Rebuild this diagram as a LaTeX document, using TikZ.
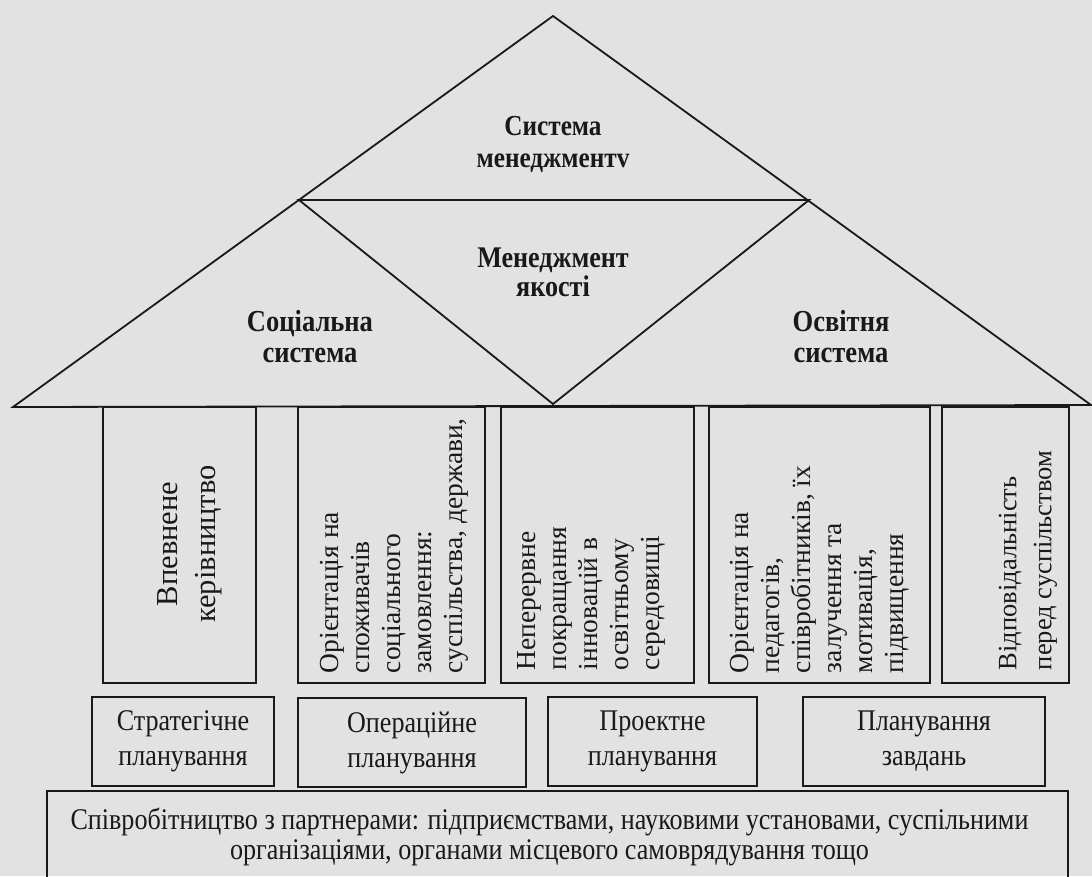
\documentclass[tikz,border=0pt]{standalone}
\usepackage{fontspec}
\setmainfont{Liberation Serif}
\newfontfamily\condfont[FakeStretch=0.87]{Liberation Serif}
\definecolor{bg}{RGB}{226,226,226}
\definecolor{ink}{RGB}{25,25,25}
\begin{document}
\begin{tikzpicture}[x=1pt,y=-1pt,line width=1.8pt,draw=ink,text=ink,
  trilabel/.style={align=center,inner sep=0pt,font=\condfont\bfseries\fontsize{30}{32}\selectfont},
  pillar/.style={draw,minimum height=276pt,inner sep=0pt},
  piltext/.style={rotate=90,align=left,anchor=west,inner sep=0pt,font=\fontsize{27.5}{31}\selectfont},
  planbox/.style={draw,minimum height=89pt,inner sep=0pt,align=center,font=\condfont\fontsize{30}{35}\selectfont},
  cooptext/.style={align=center,inner sep=0pt,font=\condfont\fontsize{30}{30}\selectfont}]
\clip (0,0) rectangle (1092,876);
\fill[bg] (0,0) rectangle (1092,876);

% triangles
\coordinate (apex) at (553,16);
\coordinate (bl) at (13,407);
\coordinate (br) at (1091,405);
\coordinate (ml) at (299,200);
\coordinate (mr) at (809,200);
\coordinate (mb) at (553,404);
\draw[line join=miter] (apex) -- (bl) -- (br) -- cycle;
\draw (ml) -- (mr) -- (mb) -- cycle;

\node[trilabel,font=\condfont\bfseries\fontsize{29}{32}\selectfont] (sys) at (553,144) {Система\\менеджментv};
\node[trilabel,font=\condfont\bfseries\fontsize{30}{29}\selectfont] (qual) at (553,272) {Менеджмент\\якості};
\node[trilabel,font=\condfont\bfseries\fontsize{30.5}{31}\selectfont] (soc) at (310,337) {Соціальна\\система};
\node[trilabel,font=\condfont\bfseries\fontsize{30.5}{31}\selectfont] (edu) at (841,337) {Освітня\\система};

% pillars
\node[pillar,minimum width=153pt] (c1) at (179.5,545) {};
\node[pillar,minimum width=187pt] (c2) at (391.5,545) {};
\node[pillar,minimum width=193pt] (c3) at (597.5,545) {};
\node[pillar,minimum width=221pt] (c4) at (819.5,545) {};
\node[pillar,minimum width=127pt] (c5) at (1005.5,545) {};

\node[rotate=90,align=center,inner sep=0pt,font=\fontsize{30.5}{38}\selectfont] (t1) at (190,544) {Впевнене\\керівництво};
\node[piltext] (t2) at (394,674) {Орієнтація на\\споживачів\\соціального\\замовлення:\\суспільства, держави,};
\node[piltext] (t3) at (591,671) {Неперервне\\покращання\\інновацій в\\освітньому\\середовищі};
\node[piltext] (t4) at (820,674) {Орієнтація на\\педагогів,\\співробітників, їх\\залучення та\\мотивація,\\підвищення};
\node[piltext,font=\fontsize{26.5}{35}\selectfont] (t5) at (1028,671) {Відповідальність\\перед суспільством};

% planning boxes
\node[planbox,minimum width=182pt] (p1) at (183,741.5) {Стратегічне\\планування};
\node[planbox,minimum width=228pt] (p2) at (412,742.5) {Операційне\\планування};
\node[planbox,minimum width=209pt] (p3) at (652.5,741.5) {Проектне\\планування};
\node[planbox,minimum width=242pt] (p4) at (924,741.5) {Планування\\завдань};

% cooperation box
\node[draw,minimum width=1021pt,minimum height=120pt,anchor=north,inner sep=0pt] (coop) at (557.5,790) {};
\node[cooptext] (cooptxt) at (549.5,837) {Співробітництво з партнерами: підприємствами, науковими установами, суспільними\\організаціями, органами місцевого самоврядування тощо};
\end{tikzpicture}
\end{document}
